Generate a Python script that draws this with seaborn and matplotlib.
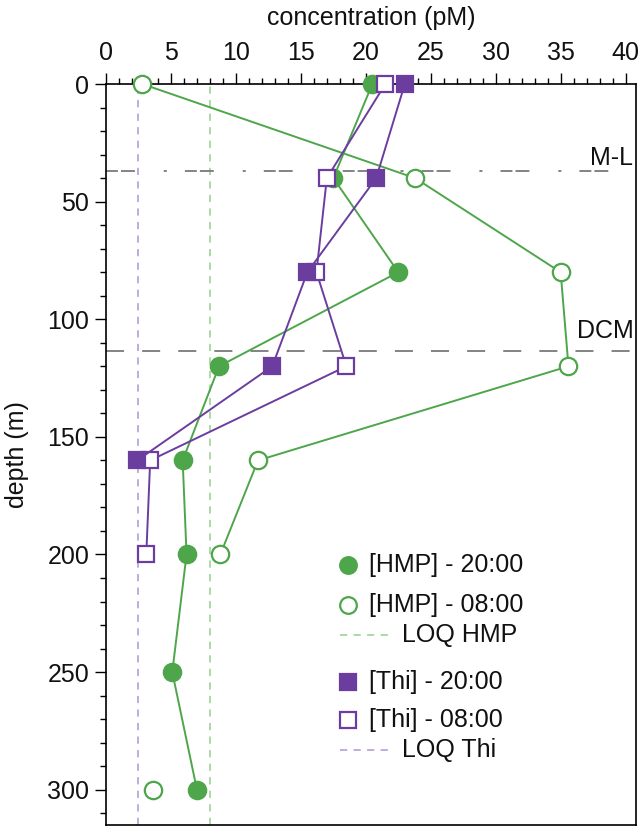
import matplotlib
matplotlib.use("Agg")
import matplotlib.pyplot as plt
from matplotlib.ticker import MultipleLocator
import seaborn as sns
import pandas as pd
import numpy as np

# Depth profiles (pM)
depth = [0, 40, 80, 120, 160, 200, 250, 300]
hmp_2000 = [20.5, 17.5, 22.5, 8.7, 5.9, 6.2, 5.1, 7.0]
hmp_0800 = [2.8, 23.8, 35.0, 35.6, 11.7, 8.8, np.nan, 3.6]
thi_2000 = [23.0, 20.8, 15.5, 12.8, 2.4, np.nan, np.nan, np.nan]
thi_0800 = [21.5, 17.0, 16.2, 18.5, 3.4, 3.1, np.nan, np.nan]

loq_hmp = 8.0
loq_thi = 2.5
ml_depth = 37
dcm_depth = 113.5

green = "#4ea64a"
purple = "#6b3d9e"
green_lt = "#a6d6a0"
purple_lt = "#bba6da"
grey = "#7a7a7a"
fs = 18

sns.set_theme(style="white")
plt.rcParams["font.family"] = ["Liberation Sans", "DejaVu Sans"]
plt.rcParams["text.color"] = "#111111"
plt.rcParams["axes.labelcolor"] = "#111111"
plt.rcParams["xtick.labelcolor"] = "#111111"
plt.rcParams["ytick.labelcolor"] = "#111111"

fig = plt.figure(figsize=(6.41, 8.27), dpi=100)
ax = fig.add_axes([0.1654, 0.0024, 0.8268, 0.896])


def draw(vals, color, marker, filled, z):
    df = pd.DataFrame({"depth": depth, "conc": vals})
    seg = df["conc"].isna().cumsum()
    ok = df["conc"].notna()
    for _, part in df[ok].groupby(seg[ok]):
        sns.lineplot(data=part, x="conc", y="depth", orient="y", sort=False,
                     ax=ax, color=color, lw=1.4, marker=marker,
                     ms=12.5 if marker == "o" else 12,
                     mfc=color if filled else "white", mec=color, mew=1.6,
                     clip_on=False, zorder=z)


# reference lines
ax.axvline(loq_hmp, color=green_lt, lw=1.3, dashes=(4, 3.5), zorder=1)
ax.axvline(loq_thi, color=purple_lt, lw=1.3, dashes=(4, 3.5), zorder=1)
ax.axhline(ml_depth, color=grey, lw=1.3, dashes=(6.6, 1.7, 7.7, 16, 1.7, 10), zorder=1)
ax.axhline(dcm_depth, color=grey, lw=1.3, dashes=(10, 10), zorder=1)
ax.text(40.6, 31.5, "M-L", ha="right", va="center", fontsize=fs)
ax.text(40.6, 105, "DCM", ha="right", va="center", fontsize=fs)

draw(hmp_2000, green, "o", True, 4)
draw(hmp_0800, green, "o", False, 4)
draw(thi_0800, purple, "s", False, 5)
draw(thi_2000, purple, "s", True, 6)

ax.set_xlim(0, 40.8)
ax.set_ylim(315, 0)
ax.xaxis.tick_top()
ax.xaxis.set_label_position("top")
ax.set_xlabel("concentration (pM)", fontsize=fs, labelpad=11)
ax.set_ylabel("depth (m)", fontsize=fs, labelpad=13)
ax.xaxis.set_major_locator(MultipleLocator(5))
ax.xaxis.set_minor_locator(MultipleLocator(1))
ax.yaxis.set_major_locator(MultipleLocator(50))
ax.yaxis.set_minor_locator(MultipleLocator(10))
ax.tick_params(axis="x", which="major", top=True, bottom=False, length=8,
               width=1, direction="out", labelsize=fs, pad=6, color="black")
ax.tick_params(axis="x", which="minor", top=True, bottom=False, length=4,
               width=1, direction="out", color="black")
ax.tick_params(axis="y", which="major", left=True, length=8, width=1,
               direction="out", labelsize=fs, pad=4, color="black")
ax.tick_params(axis="y", which="minor", left=True, length=4.3, width=1,
               direction="out", color="black")
for s in ax.spines.values():
    s.set_color("black")
    s.set_linewidth(1.2)

# legend drawn by hand to mimic the original layout
tr = ax.transAxes
rows = [
    (0.351, "marker", "o", green, True, "[HMP] - 20:00"),
    (0.297, "marker", "o", green, False, "[HMP] - 08:00"),
    (0.256, "line", None, green_lt, None, "LOQ HMP"),
    (0.193, "marker", "s", purple, True, "[Thi] - 20:00"),
    (0.142, "marker", "s", purple, False, "[Thi] - 08:00"),
    (0.101, "line", None, purple_lt, None, "LOQ Thi"),
]
for y, kind, mk, col, filled, lab in rows:
    if kind == "marker":
        ax.plot([0.4566], [y], transform=tr, marker=mk, ms=12 if mk == "o" else 11,
                mfc=col if filled else "white", mec=col, mew=1.6, ls="none",
                clip_on=False)
        ax.text(0.497, y, lab, transform=tr, ha="left", va="center", fontsize=fs)
    else:
        ax.plot([0.4415, 0.5396], [y, y], transform=tr, color=col, lw=1.3,
                dashes=(4, 3.5), clip_on=False)
        ax.text(0.558, y, lab, transform=tr, ha="left", va="center", fontsize=fs)

fig.savefig("out.png", dpi=100)
